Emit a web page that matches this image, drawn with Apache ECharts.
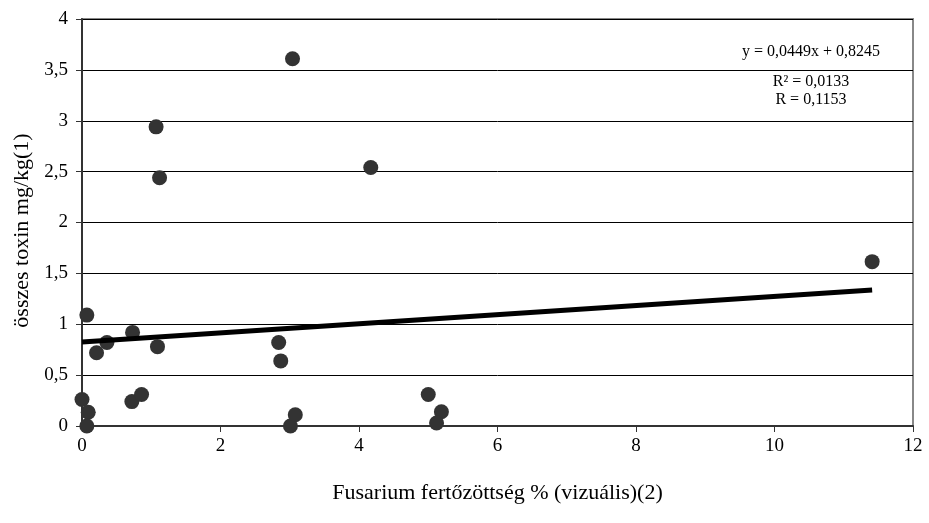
<!DOCTYPE html>
<html>
<head>
<meta charset="utf-8">
<script src="https://cdn.jsdelivr.net/npm/echarts@6/dist/echarts.min.js"></script>
<style>
  html, body { margin: 0; padding: 0; background: #fff; }
  #chart { width: 929px; height: 523px; }
</style>
</head>
<body>
<div id="chart"></div>
<script>
// mért pontok: Fusarium fertőzöttség % és összes toxin mg/kg
var fusarium = [0, 0.07, 0.09, 0.07, 0.21, 0.36, 0.73, 0.72, 0.86, 1.09, 1.07, 1.12,
  2.84, 2.87, 3.01, 3.08, 3.04, 4.17, 5.0, 5.19, 5.12, 11.41];
var toxin = [0.26, 1.09, 0.135, 0, 0.72, 0.82, 0.92, 0.24, 0.31, 0.78, 2.94, 2.44,
  0.82, 0.64, 0, 0.11, 3.61, 2.54, 0.31, 0.14, 0.03, 1.615];

// trendvonal (a diagramon kiírt egyenlet)
var slope = 0.0449;
var intercept = 0.8245;
var equationLines = ['y = 0,0449x + 0,8245', 'R² = 0,0133', 'R = 0,1153'];

var serif = '"Liberation Serif", "DejaVu Serif", serif';

var points = fusarium.map(function (x, i) { return [x, toxin[i]]; });
var xEnd = Math.max.apply(null, fusarium);
var trend = [[0, intercept], [xEnd, intercept + slope * xEnd]];

var chart = echarts.init(document.getElementById('chart'));

var eqY = [52, 82, 100];

chart.setOption({
  animation: false,
  backgroundColor: '#fff',
  grid: {
    left: 82, right: 16, top: 19, bottom: 97,
    show: true,
    borderColor: '#888',
    borderWidth: 2
  },
  xAxis: {
    type: 'value',
    min: 0, max: 12, interval: 2,
    name: 'Fusarium fertőzöttség % (vizuális)(2)',
    nameLocation: 'middle',
    nameGap: 56,
    nameTextStyle: { fontFamily: serif, fontSize: 22, color: '#000' },
    axisLine: { show: true, onZero: false, lineStyle: { color: '#333', width: 2 } },
    axisTick: { show: true, length: 6, lineStyle: { color: '#333', width: 1 } },
    axisLabel: { fontFamily: serif, fontSize: 19, color: '#000', margin: 11 },
    splitLine: { show: false }
  },
  yAxis: {
    type: 'value',
    min: 0, max: 4, interval: 0.5,
    name: 'összes toxin mg/kg(1)',
    nameLocation: 'middle',
    nameGap: 43,
    nameTextStyle: { fontFamily: serif, fontSize: 22, color: '#000', padding: [0, 16, 0, 0] },
    axisLine: { show: true, onZero: false, lineStyle: { color: '#333', width: 2 } },
    axisTick: { show: true, length: 6, lineStyle: { color: '#333', width: 1 } },
    axisLabel: {
      fontFamily: serif, fontSize: 19, color: '#000', margin: 14,
      formatter: function (v) { return String(v).replace('.', ','); }
    },
    splitLine: { show: true, lineStyle: { color: '#000', width: 1 } }
  },
  graphic: equationLines.map(function (t, i) {
    return {
      type: 'text',
      x: 811, y: eqY[i],
      style: {
        text: t,
        fill: '#000',
        font: '16px ' + serif,
        textAlign: 'center',
        textVerticalAlign: 'middle'
      },
      z: 100
    };
  }),
  series: [
    {
      type: 'scatter',
      data: points,
      symbol: 'circle',
      symbolSize: 15,
      itemStyle: { color: '#333', opacity: 1 },
      z: 3
    },
    {
      type: 'line',
      data: trend,
      showSymbol: false,
      symbol: 'none',
      lineStyle: { color: '#000', width: 5 },
      z: 4
    }
  ]
});
</script>
</body>
</html>
